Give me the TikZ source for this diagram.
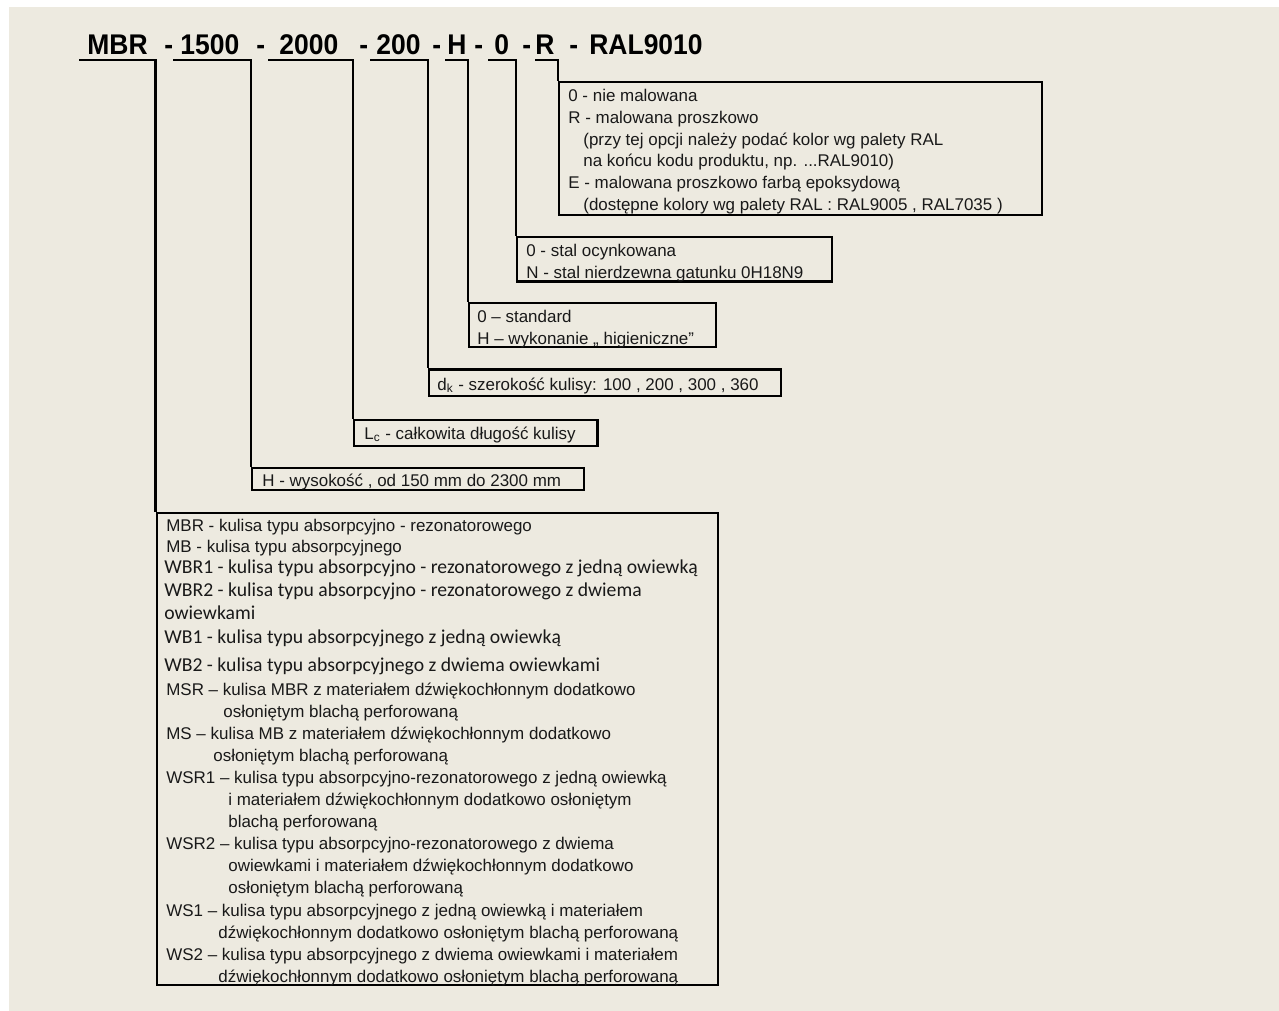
\documentclass[tikz,border=0pt]{standalone}
\usepackage{fontspec}
\setmainfont{Liberation Sans}
\newfontfamily\calfont{Carlito}
\newfontfamily\codefont[FakeStretch=0.93]{Liberation Sans Bold}
\usetikzlibrary{fit}
\definecolor{paper}{RGB}{237,234,224}
\definecolor{ink}{RGB}{25,25,25}
\tikzset{
  box/.style={draw=black, line width=1.4pt, inner sep=0pt},
  bigbox/.style={box, line width=1.6pt},
  link/.style={line width=1.4pt},
  code/.style={font=\codefont\fontsize{16.2}{19}\selectfont, anchor=base west, inner sep=0pt, text=black},
  txt/.style={font=\fontsize{9.65}{12}\selectfont, anchor=base west, inner sep=0pt, text=ink},
  cal/.style={font=\calfont\fontsize{11.2}{13}\selectfont}
}
\begin{document}
\begin{tikzpicture}[x=0.02cm, y=-0.02cm]
  \useasboundingbox (0,0) rectangle (1279,1011);
  \fill[white] (0,0) rectangle (1279,1011);
  \fill[paper] (9,7) rectangle (1279,1011);
  % product code
  \begin{scope}[every node/.style=code]
    \path
      (87,54) node (mbr){MBR}
      (164,54) node (d1){-}
      (180,54) node (hgt){1500}
      (256,54) node (d2){-}
      (279,54) node (len){2000}
      (359,54) node (d3){-}
      (376,54) node (wid){200}
      (432,54) node (d4){-}
      (447,54) node (hyg){H}
      (474,54) node (d5){-}
      (494,54) node (mat){0}
      (522,54) node (d6){-}
      (535,54) node (col){R}
      (569,54) node (d7){-}
      (589,54) node (ral){RAL9010};
  \end{scope}
  % boxes
  \node[box, fit={(559,82) (1042,215)}] (paint) {};
  \node[box, fit={(517,237) (832,281.5)}] (steel) {};
  \node[box, fit={(469,303) (716,347)}] (clean) {};
  \node[box, fit={(429,369.5) (781,396)}] (width) {};
  \node[box, fit={(354,420) (597.5,446)}] (length) {};
  \node[box, fit={(252,468) (584,490)}] (height) {};
  \node[bigbox, fit={(157,513) (718,985)}] (types) {};
  % underlines
  \coordinate (u1) at (79,60);
  \coordinate (u2) at (173,60);
  \coordinate (u3) at (268,60);
  \coordinate (u4) at (370,60);
  \coordinate (u5) at (445,60);
  \coordinate (u6) at (488,60);
  \coordinate (u7) at (535,60);
  \begin{scope}[link]
    \draw (u1) -| (types.north west);
    \draw (u2) -| (height.north west);
    \draw (u3) -| (length.north west);
    \draw (u4) -| (width.north west);
    \draw (u5) -| (clean.north west);
    \draw (u6) -| (steel.north west);
    \draw (u7) -| (paint.north west);
  \end{scope}
  % box texts
  \begin{scope}[every node/.style=txt]
    \path
      (568,101.5) node (p1){0 - nie malowana}
      (568,123.3) node (p2){R - malowana proszkowo}
      (583,145.1) node (p3){(przy tej opcji należy podać kolor wg palety RAL}
      (583,166.9) node (p4){na końcu kodu produktu, np. ...RAL9010)}
      (568,188.7) node (p5){E - malowana proszkowo farbą epoksydową}
      (583,210.5) node (p6){(dostępne kolory wg palety RAL : RAL9005 , RAL7035 )};
    \path
      (526,256) node (s1){0 - stal ocynkowana}
      (526,278.5) node (s2){N - stal nierdzewna gatunku 0H18N9};
    \path
      (477,322.7) node (c1){0 – standard}
      (477,344.3) node (c2){H – wykonanie „ higieniczne”};
    \path (437,390) node (w1){d\textsubscript{k} - szerokość kulisy: 100 , 200 , 300 , 360};
    \path (364,439.3) node (l1){L\textsubscript{c} - całkowita długość kulisy};
    \path (262,486) node (h1){H - wysokość , od 150 mm do 2300 mm};
    \path
      (166,531) node (t1){MBR - kulisa typu absorpcyjno - rezonatorowego}
      (166,552) node (t2){MB - kulisa typu absorpcyjnego}
      (164,573.3) node[cal] (t3){WBR1 - kulisa typu absorpcyjno - rezonatorowego z jedną owiewką}
      (164,596.3) node[cal] (t4){WBR2 - kulisa typu absorpcyjno - rezonatorowego z dwiema}
      (164,619.3) node[cal] (t5){owiewkami}
      (164,643.3) node[cal] (t6){WB1 - kulisa typu absorpcyjnego z jedną owiewką}
      (164,671.3) node[cal] (t7){WB2 - kulisa typu absorpcyjnego z dwiema owiewkami}
      (166,695) node (t8){MSR – kulisa MBR z materiałem dźwiękochłonnym dodatkowo}
      (223,717) node (t9){osłoniętym blachą perforowaną}
      (166,739) node (t10){MS – kulisa MB z materiałem dźwiękochłonnym dodatkowo}
      (213,761) node (t11){osłoniętym blachą perforowaną}
      (166,783) node (t12){WSR1 – kulisa typu absorpcyjno-rezonatorowego z jedną owiewką}
      (228,805) node (t13){i materiałem dźwiękochłonnym dodatkowo osłoniętym}
      (228,827) node (t14){blachą perforowaną}
      (166,849) node (t15){WSR2 – kulisa typu absorpcyjno-rezonatorowego z dwiema}
      (228,871) node (t16){owiewkami i materiałem dźwiękochłonnym dodatkowo}
      (228,893) node (t17){osłoniętym blachą perforowaną}
      (166,916) node (t18){WS1 – kulisa typu absorpcyjnego z jedną owiewką i materiałem}
      (218,938) node (t19){dźwiękochłonnym dodatkowo osłoniętym blachą perforowaną}
      (166,960) node (t20){WS2 – kulisa typu absorpcyjnego z dwiema owiewkami i materiałem}
      (218,982) node (t21){dźwiękochłonnym dodatkowo osłoniętym blachą perforowaną};
  \end{scope}
\end{tikzpicture}
\end{document}
